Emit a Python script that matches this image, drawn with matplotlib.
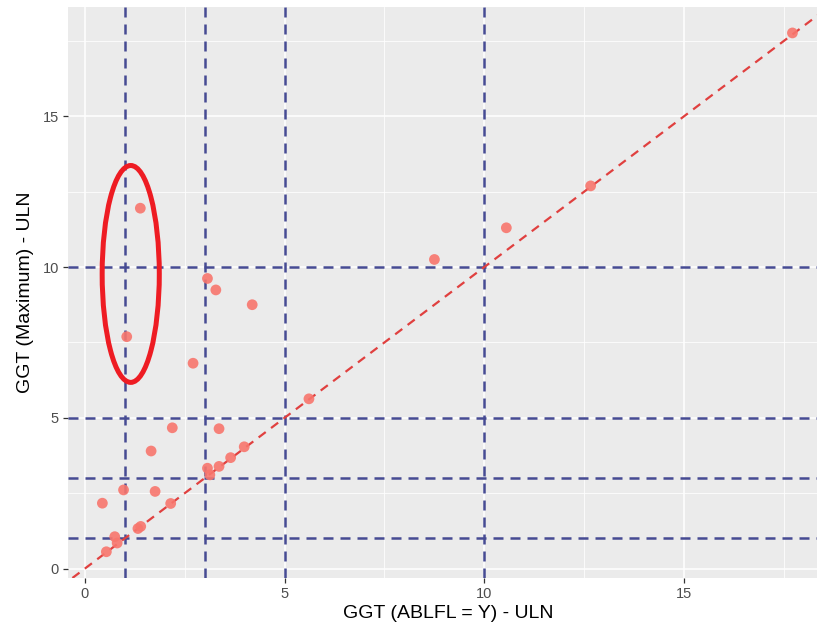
import numpy as np
import matplotlib
matplotlib.use('Agg')
import matplotlib.pyplot as plt
from matplotlib.patches import Ellipse

plt.rcParams['font.family'] = ['Liberation Sans', 'DejaVu Sans']

# GGT (ABLFL = Y) - ULN  vs  GGT (Maximum) - ULN
ggt_baseline = [0.54, 0.75, 0.81, 1.33, 1.40, 0.44, 0.97, 1.76, 2.15, 1.66,
                2.19, 3.36, 3.07, 3.13, 3.36, 3.65, 3.99, 5.61, 2.71, 1.05,
                4.19, 3.28, 3.07, 1.39, 8.75, 10.55, 12.66, 17.71]
ggt_max = [0.56, 1.06, 0.85, 1.33, 1.40, 2.17, 2.61, 2.56, 2.16, 3.90,
           4.67, 4.64, 3.33, 3.11, 3.39, 3.68, 4.04, 5.63, 6.81, 7.69,
           8.75, 9.24, 9.62, 11.95, 10.25, 11.30, 12.69, 17.76]

cutoffs_x = [1, 3, 5, 10]
cutoffs_y = [1, 3, 5, 10]

# highlighted region (hand-drawn ellipse in the original)
ellipse_center = (1.15, 9.77)
ellipse_w, ellipse_h = 1.43, 7.19

fig = plt.figure(figsize=(8.17, 6.3), dpi=100)
ax = fig.add_axes([68 / 817, 52 / 630, (828 - 68) / 817, 571 / 630])
ax.set_facecolor('#EBEBEB')
for s in ax.spines.values():
    s.set_visible(False)

ax.set_xlim(-0.42, 18.6)
ax.set_ylim(-0.31, 18.62)
ax.set_xticks([0, 5, 10, 15])
ax.set_yticks([0, 5, 10, 15])
ax.set_xticks([2.5, 7.5, 12.5, 17.5], minor=True)
ax.set_yticks([2.5, 7.5, 12.5, 17.5], minor=True)
ax.grid(True, which='major', color='white', lw=1.1)
ax.grid(True, which='minor', color='white', lw=0.55)
ax.set_axisbelow(True)
ax.tick_params(which='major', length=3.5, width=0.9, color='#333333',
               labelsize=10.5, labelcolor='#4D4D4D', pad=3)
ax.tick_params(which='minor', length=0)

dash = (0, (4, 2.8))
for xv in cutoffs_x:
    ax.axvline(xv, color='#464B93', lw=1.8, ls=dash, zorder=2)
for yv in cutoffs_y:
    ax.axhline(yv, color='#464B93', lw=1.8, ls=dash, zorder=2)

ax.axline((0, 0), slope=1, color='#E0403F', lw=1.6, ls=(0, (4, 3)), zorder=3)

ax.scatter(ggt_baseline, ggt_max, s=60, color='#F8766D', alpha=0.9,
           edgecolors='none', zorder=4)

ax.add_patch(Ellipse(ellipse_center, ellipse_w, ellipse_h, fill=False,
                     ec='#EE1C23', lw=3.6, zorder=5))

ax.set_xlabel('GGT (ABLFL = Y) - ULN', fontsize=14, labelpad=3)
ax.set_ylabel('GGT (Maximum) - ULN', fontsize=14, labelpad=6)

fig.savefig('out.png', dpi=100)
